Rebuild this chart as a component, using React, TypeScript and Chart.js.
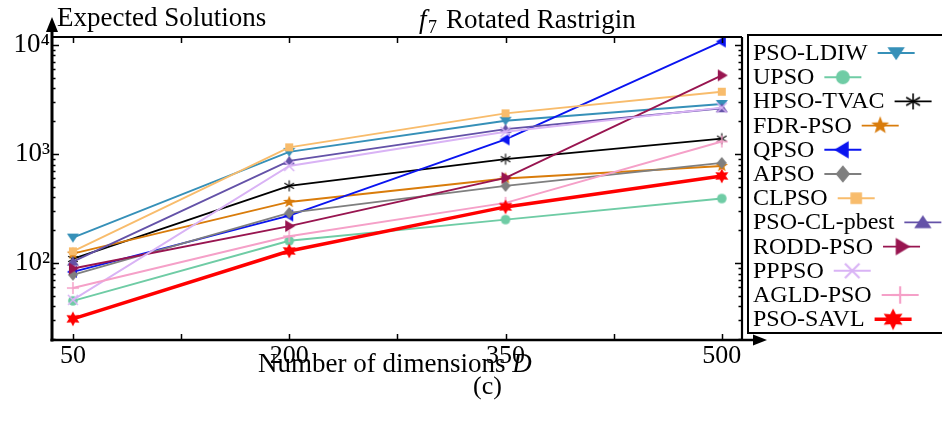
import React, { useEffect, useRef } from 'react';
import { Chart, registerables } from 'chart.js';

Chart.register(...registerables);

// Number of dimensions on the x axis
const dimensions = [50, 200, 350, 500];

// Expected solutions per algorithm (one value per dimension)
const psoLdiw = [171, 1045, 2015, 2870];
const upso = [45, 160, 250, 390];
const hpsoTvac = [109, 510, 896, 1380];
const fdrPso = [122, 363, 596, 775];
const qpso = [83, 272, 1357, 10720];
const apso = [78, 288, 509, 828];
const clpso = [128, 1150, 2355, 3720];
const psoClPbest = [103, 865, 1690, 2620];
const roddPso = [89, 218, 604, 5250];
const ppPso = [46, 775, 1596, 2660];
const agldPso = [59, 176, 356, 1300];
const psoSavl = [30.8, 129, 327, 628];

// Axis ticks
const xTickValues = [50, 125, 200, 275, 350, 425, 500];
const xLabelValues = [50, 200, 350, 500];
const yDecades = [100, 1000, 10000];
const supDigits: Record<number, string> = { 2: '\u00B2', 3: '\u00B3', 4: '\u2074' };

const SERIF = '"Liberation Serif", "Times New Roman", Times, serif';

type MarkerKind =
  | 'triDown' | 'triUp' | 'triLeft' | 'triRight' | 'circle' | 'asterisk'
  | 'star5' | 'diamond' | 'square' | 'xmark' | 'plus' | 'hexagram';

interface SeriesDef {
  label: string;
  data: number[];
  color: string;
  marker: MarkerKind;
  width: number;
}

const series: SeriesDef[] = [
  { label: 'PSO-LDIW', data: psoLdiw, color: '#3690b8', marker: 'triDown', width: 1.9 },
  { label: 'UPSO', data: upso, color: '#6fcca5', marker: 'circle', width: 1.9 },
  { label: 'HPSO-TVAC', data: hpsoTvac, color: '#000000', marker: 'asterisk', width: 1.9 },
  { label: 'FDR-PSO', data: fdrPso, color: '#d97c0b', marker: 'star5', width: 1.9 },
  { label: 'QPSO', data: qpso, color: '#0a14f0', marker: 'triLeft', width: 1.9 },
  { label: 'APSO', data: apso, color: '#7f7f7f', marker: 'diamond', width: 1.9 },
  { label: 'CLPSO', data: clpso, color: '#f8bc6c', marker: 'square', width: 1.9 },
  { label: 'PSO-CL-pbest', data: psoClPbest, color: '#6452a8', marker: 'triUp', width: 1.9 },
  { label: 'RODD-PSO', data: roddPso, color: '#981550', marker: 'triRight', width: 1.9 },
  { label: 'PPPSO', data: ppPso, color: '#d9b3f5', marker: 'xmark', width: 1.9 },
  { label: 'AGLD-PSO', data: agldPso, color: '#f5a0c8', marker: 'plus', width: 1.9 },
  { label: 'PSO-SAVL', data: psoSavl, color: '#ff0000', marker: 'hexagram', width: 3.5 },
];

function makeMarker(kind: MarkerKind, color: string, scale: number): HTMLCanvasElement {
  const size = Math.ceil(24 * scale / 2) * 2;
  const c = document.createElement('canvas');
  c.width = size;
  c.height = size;
  const g = c.getContext('2d')!;
  g.translate(size / 2, size / 2);
  g.scale(scale, scale);
  g.fillStyle = color;
  g.strokeStyle = color;
  const poly = (pts: number[][]) => {
    g.beginPath();
    pts.forEach(([px, py], i) => (i ? g.lineTo(px, py) : g.moveTo(px, py)));
    g.closePath();
    g.fill();
  };
  const starPts = (n: number, outer: number, inner: number) => {
    const pts: number[][] = [];
    for (let i = 0; i < n * 2; i++) {
      const r = i % 2 ? inner : outer;
      const a = -Math.PI / 2 + (i * Math.PI) / n;
      pts.push([r * Math.cos(a), r * Math.sin(a)]);
    }
    return pts;
  };
  const seg = (x1: number, y1: number, x2: number, y2: number) => {
    g.beginPath();
    g.moveTo(x1, y1);
    g.lineTo(x2, y2);
    g.stroke();
  };
  switch (kind) {
    case 'triDown': poly([[-6, -4], [6, -4], [0, 5]]); break;
    case 'triUp': poly([[-6, 4], [6, 4], [0, -5]]); break;
    case 'triLeft': poly([[4, -6], [4, 6], [-6, 0]]); break;
    case 'triRight': poly([[-4, -6], [-4, 6], [6, 0]]); break;
    case 'circle': g.beginPath(); g.arc(0, 0, 4.8, 0, Math.PI * 2); g.fill(); break;
    case 'square': poly([[-4, -4], [4, -4], [4, 4], [-4, 4]]); break;
    case 'diamond': poly([[0, -6], [5, 0], [0, 6], [-5, 0]]); break;
    case 'star5': poly(starPts(5, 6.5, 2.7)); break;
    case 'hexagram': poly(starPts(6, 7.5, 4)); break;
    case 'asterisk':
      g.lineWidth = 1.1;
      for (let k = 0; k < 3; k++) {
        const a = Math.PI / 2 + (k * Math.PI) / 3;
        seg(-5.5 * Math.cos(a), -5.5 * Math.sin(a), 5.5 * Math.cos(a), 5.5 * Math.sin(a));
      }
      break;
    case 'xmark':
      g.lineWidth = 1.5;
      seg(-5, -5, 5, 5);
      seg(-5, 5, 5, -5);
      break;
    case 'plus':
      g.lineWidth = 1.5;
      seg(-6, 0, 6, 0);
      seg(0, -6, 0, 6);
      break;
  }
  return c;
}

const framePlugin = {
  id: 'frameAndLabels',
  afterDraw(chart: any) {
    const { ctx, chartArea } = chart;
    const { left, right, top, bottom } = chartArea;
    const xs = chart.scales.x;
    const ys = chart.scales.y;
    ctx.save();
    ctx.strokeStyle = '#000';
    ctx.fillStyle = '#000';
    ctx.lineCap = 'butt';

    // top and right borders
    ctx.lineWidth = 2.2;
    ctx.beginPath();
    ctx.moveTo(left, top);
    ctx.lineTo(right, top);
    ctx.moveTo(right, top);
    ctx.lineTo(right, bottom);
    ctx.stroke();

    // y axis with arrow
    ctx.lineWidth = 3;
    ctx.beginPath();
    ctx.moveTo(left, bottom + 1.5);
    ctx.lineTo(left, top - 6);
    ctx.stroke();
    ctx.beginPath();
    ctx.moveTo(left, top - 20);
    ctx.lineTo(left - 6, top - 5);
    ctx.lineTo(left + 6, top - 5);
    ctx.closePath();
    ctx.fill();

    // x axis with arrow
    ctx.lineWidth = 2.5;
    ctx.beginPath();
    ctx.moveTo(left - 1.5, bottom);
    ctx.lineTo(right + 12, bottom);
    ctx.stroke();
    ctx.beginPath();
    ctx.moveTo(right + 25, bottom);
    ctx.lineTo(right + 11, bottom - 5.5);
    ctx.lineTo(right + 11, bottom + 5.5);
    ctx.closePath();
    ctx.fill();

    // inward tick marks
    ctx.lineWidth = 1.5;
    ctx.beginPath();
    xTickValues.forEach((v) => {
      const px = Math.round(xs.getPixelForValue(v)) + 0.5;
      ctx.moveTo(px, bottom);
      ctx.lineTo(px, bottom - 6);
      ctx.moveTo(px, top);
      ctx.lineTo(px, top + 6);
    });
    for (let d = 1; d <= 4; d++) {
      for (let k = 1; k <= 9; k++) {
        const v = k * Math.pow(10, d);
        if (v < ys.min || v > ys.max) continue;
        const py = Math.round(ys.getPixelForValue(v)) + 0.5;
        const len = k === 1 ? 7 : 3.5;
        ctx.moveTo(left, py);
        ctx.lineTo(left + len, py);
        ctx.moveTo(right, py);
        ctx.lineTo(right - len, py);
      }
    }
    ctx.stroke();

    // y axis title
    ctx.textBaseline = 'alphabetic';
    ctx.textAlign = 'left';
    ctx.font = `27px ${SERIF}`;
    ctx.fillText('Expected Solutions', 57, 26);

    // chart title: f7 Rotated Rastrigin
    ctx.font = `italic 27px ${SERIF}`;
    ctx.fillText('f', 419, 28);
    ctx.font = `18px ${SERIF}`;
    ctx.fillText('7', 428, 33);
    ctx.font = `27px ${SERIF}`;
    ctx.fillText('Rotated Rastrigin', 446, 28);

    // x axis title
    ctx.font = `27px ${SERIF}`;
    const xt = 'Number of dimensions ';
    ctx.fillText(xt, 258, 372);
    const w = ctx.measureText(xt).width;
    ctx.font = `italic 27px ${SERIF}`;
    ctx.fillText('D', 258 + w, 372);

    // panel label
    ctx.font = `26px ${SERIF}`;
    ctx.fillText('(c)', 473, 394);

    // legend frame (open on the right, runs past the canvas edge)
    ctx.lineWidth = 2;
    ctx.beginPath();
    ctx.moveTo(960, 35);
    ctx.lineTo(748, 35);
    ctx.lineTo(748, 333);
    ctx.lineTo(960, 333);
    ctx.stroke();

    ctx.font = `24px ${SERIF}`;
    series.forEach((s, i) => {
      const base = 60 + i * 24.2;
      ctx.fillStyle = '#000';
      ctx.fillText(s.label, 753, base);
      const tw = ctx.measureText(s.label).width;
      const x0 = 753 + tw + 10;
      const x1 = x0 + 37;
      const ly = base - 7;
      ctx.strokeStyle = s.color;
      ctx.lineWidth = s.width;
      ctx.beginPath();
      ctx.moveTo(x0, ly);
      ctx.lineTo(x1, ly);
      ctx.stroke();
      const m = makeMarker(s.marker, s.color, 1.45);
      ctx.drawImage(m, (x0 + x1) / 2 - m.width / 2, ly - m.height / 2);
    });
    ctx.restore();
  },
};

export default function App() {
  const canvasRef = useRef<HTMLCanvasElement | null>(null);

  useEffect(() => {
    const canvas = canvasRef.current;
    if (!canvas) return;
    const n = series.length;
    const datasets = series.map((s, i) => ({
      label: s.label,
      data: dimensions.map((d, j) => ({ x: d, y: s.data[j] })),
      borderColor: s.color,
      backgroundColor: s.color,
      borderWidth: s.width,
      pointStyle: makeMarker(s.marker, s.color, 1),
      pointRadius: 5,
      tension: 0,
      order: n - 1 - i,
    }));

    const chart = new Chart(canvas, {
      type: 'line',
      data: { datasets },
      plugins: [framePlugin],
      options: {
        animation: false,
        responsive: false,
        events: [],
        layout: { padding: { left: 0, top: 37, right: 200, bottom: 0 } },
        plugins: {
          legend: { display: false },
          tooltip: { enabled: false },
          title: { display: false },
        },
        scales: {
          x: {
            type: 'linear',
            min: 35.5,
            max: 514,
            afterFit: (s: any) => { s.height = 90; },
            afterBuildTicks: (s: any) => { s.ticks = xTickValues.map((v) => ({ value: v })); },
            grid: { display: false, drawTicks: false },
            border: { display: false },
            ticks: {
              autoSkip: false,
              maxRotation: 0,
              padding: 1,
              color: '#000',
              font: { family: SERIF, size: 26 },
              callback: (v: any) => (xLabelValues.includes(Number(v)) ? String(v) : ''),
            },
          },
          y: {
            type: 'logarithmic',
            min: 19.7,
            max: 11800,
            afterFit: (s: any) => { s.width = 52; },
            afterBuildTicks: (s: any) => { s.ticks = yDecades.map((v) => ({ value: v })); },
            grid: { display: false, drawTicks: false },
            border: { display: false },
            ticks: {
              autoSkip: false,
              padding: 2,
              color: '#000',
              font: { family: SERIF, size: 27 },
              callback: (v: any) => '10' + supDigits[Math.round(Math.log10(Number(v)))],
            },
          },
        },
      },
    });
    return () => chart.destroy();
  }, []);

  return (
    <div style={{ position: 'absolute', left: 0, top: 0, width: 942, height: 430, background: '#fff' }}>
      <canvas ref={canvasRef} width={942} height={430} style={{ width: 942, height: 430, display: 'block' }} />
    </div>
  );
}
